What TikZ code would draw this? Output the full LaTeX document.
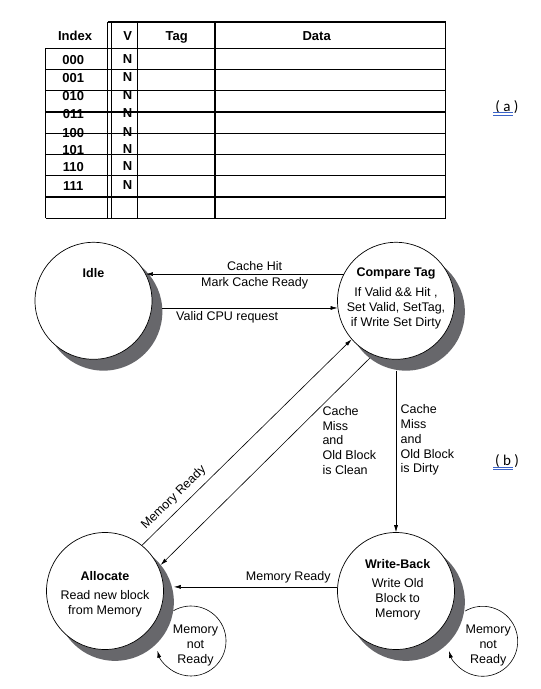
\documentclass[tikz,border=0pt]{standalone}
\usepackage{fontspec}
\setmainfont{Liberation Sans}
\newfontfamily\capfont{Carlito}
\usetikzlibrary{arrows.meta}

\definecolor{shadowgray}{HTML}{67676B}
\definecolor{underblue}{HTML}{3A63C8}

\tikzset{
	state/.style={circle, draw, fill=white, line width=0.7pt, minimum size=117pt, inner sep=0pt},
	stateshadow/.style={fill=shadowgray},
	statename/.style={font=\fontsize{12.5}{15}\selectfont\bfseries},
	statetext/.style={font=\fontsize{12.5}{15}\selectfont, align=center},
	edgetext/.style={font=\fontsize{12.5}{14.7}\selectfont},
	head/.style={font=\bfseries\fontsize{13}{15}\selectfont, text height=9.3pt, text depth=0pt, inner sep=0pt},
	cell/.style={font=\bfseries\fontsize{13}{15}\selectfont, text height=9.3pt, text depth=0pt, inner sep=0pt},
	partlbl/.style={font=\capfont\fontsize{15}{18}\selectfont}
}

\begin{document}
\begin{tikzpicture}[x=1pt, y=1pt, >={Latex[length=7pt,width=4pt]}]

	\useasboundingbox (0,0) rectangle (541,-689);

	% the cache table
	\draw [-, line width=1.3pt] (107.7,-22) -- (445.7,-22);
	\draw [-, line width=1.3pt] (45.7,-48.3) -- (445.7,-48.3);
	\draw [-, line width=1.3pt] (45.7,-69.6) -- (445.7,-69.6);
	\draw [-, line width=1.3pt] (45.7,-90.8) -- (445.7,-90.8);
	\draw [-, line width=1.3pt] (45.7,-112.1) -- (445.7,-112.1);
	\draw [-, line width=1.3pt] (45.7,-133.3) -- (445.7,-133.3);
	\draw [-, line width=1.3pt] (45.7,-154.6) -- (445.7,-154.6);
	\draw [-, line width=1.3pt] (45.7,-175.8) -- (445.7,-175.8);
	\draw [-, line width=1.3pt] (45.7,-197.1) -- (445.7,-197.1);
	\draw [-, line width=1.3pt] (45.7,-218.3) -- (445.7,-218.3);

	\draw [-, line width=1.3pt] (45.7,-48.3) -- (45.7,-218.3);
	\draw [-, line width=1pt] (107.7,-22) -- (107.7,-218.3);
	\draw [-, line width=1pt] (111,-22) -- (111,-218.3);
	\draw [-, line width=1.3pt] (137.7,-22) -- (137.7,-218.3);
	\draw [-, line width=1.3pt] (215,-22) -- (215,-218.3);
	\draw [-, line width=1.3pt] (445.7,-22) -- (445.7,-218.3);

	\node[head] (hidx) at (75,-36) {Index};
	\node[head] (hv) at (127.7,-36) {V};
	\node[head] (htag) at (176.7,-36) {Tag};
	\node[head] (hdata) at (316.7,-36) {Data};

	\node[cell] (idx0) at (73.3,-60) {000};
	\node[cell] (idx1) at (73.3,-78.3) {001};
	\node[cell] (idx2) at (73.3,-96) {010};
	\node[cell] (idx3) at (73.3,-114.3) {011};
	\node[cell] (idx4) at (73.3,-132.7) {100};
	\node[cell] (idx5) at (73.3,-149.7) {101};
	\node[cell] (idx6) at (73.3,-166.7) {110};
	\node[cell] (idx7) at (73.3,-185.7) {111};

	\node[cell] (v0) at (127.5,-58.5) {N};
	\node[cell] (v1) at (127.5,-76.8) {N};
	\node[cell] (v2) at (127.5,-94.8) {N};
	\node[cell] (v3) at (127.5,-113.2) {N};
	\node[cell] (v4) at (127.5,-131.6) {N};
	\node[cell] (v5) at (127.5,-148.5) {N};
	\node[cell] (v6) at (127.5,-165.8) {N};
	\node[cell] (v7) at (127.5,-184.8) {N};

	\node[partlbl] (parta) at (507,-106.7) {( a )};
	\draw [-, underblue, line width=0.7pt] (493,-112.7) -- (512.7,-112.7);
	\draw [-, underblue, line width=0.7pt] (493,-115) -- (512.7,-115);

	% the controller states, each with its shadow
	\coordinate (idlepos) at (93.5,-300.8);
	\coordinate (cmppos) at (396,-300.8);
	\coordinate (allocpos) at (105,-591);
	\coordinate (wbpos) at (396,-591);

	\fill[stateshadow] ([shift={(10,-11)}]idlepos) circle[radius=58.85];
	\fill[stateshadow] ([shift={(10,-11)}]cmppos) circle[radius=58.85];
	\fill[stateshadow] ([shift={(10,-11)}]allocpos) circle[radius=58.85];
	\fill[stateshadow] ([shift={(10,-11)}]wbpos) circle[radius=58.85];

	\node[state] (idle) at (idlepos) {};
	\node[state] (cmptag) at (cmppos) {};
	\node[state] (alloc) at (allocpos) {};
	\node[state] (wrback) at (wbpos) {};

	\node[statename] (idlename) at ([yshift=27.5]idle.center) {Idle};
	\node[statename] (cmpname) at ([yshift=27.5]cmptag.center) {Compare Tag};
	\node[statetext] (cmptext) at ([yshift=-7.5]cmptag.center) {If Valid \&\& Hit ,\\Set Valid, SetTag,\\if Write Set Dirty};
	\node[statename] (allocname) at ([yshift=15]alloc.center) {Allocate};
	\node[statetext] (alloctext) at ([yshift=-12.4]alloc.center) {Read new block\\from Memory};
	\node[statename] (wbname) at ([shift={(1.7,26.7)}]wrback.center) {Write-Back};
	\node[statetext] (wbtext) at ([shift={(1.7,-8.2)}]wrback.center) {Write Old\\Block to\\Memory};

	% transitions
	\draw [->, line width=0.6pt] (cmptag.153) -- node[edgetext, above, pos=0.45] (hitlbl) {Cache Hit}
		node[edgetext, below, pos=0.45] (readylbl) {Mark Cache Ready} (idle.27);
	\draw [->, line width=0.6pt] ([xshift=10]idle.east |- cmptag.187) -- node[edgetext, below, pos=0.37] (reqlbl) {Valid CPU request} (cmptag.187);
	\draw [->, line width=0.6pt] ([yshift=-11]cmptag.south) -- node[edgetext, right, align=left, pos=0.43, xshift=1] (dirtylbl) {Cache\\Miss\\and\\Old Block\\is Dirty} (wrback.north);
	\draw [->, line width=0.6pt] ([shift={(10,-11)}]cmptag.232) -- ([shift={(10,-11)}]alloc.39);
	\node[edgetext, anchor=west, align=left] (cleanlbl) at (319,-440.3) {Cache\\Miss\\and\\Old Block\\is Clean};
	\draw [->, line width=0.6pt] (alloc.51) -- node[edgetext, sloped, above=2pt, pos=0.19] (memlbl) {Memory Ready} (cmptag.221);
	\draw [->, line width=0.6pt] (wrback.176) -- node[edgetext, above, pos=0.3] (wblbl) {Memory Ready} ([xshift=10]alloc.east |- wrback.176);

	% waiting loops
	\coordinate (allocloop) at ([shift={(86,-50)}]alloc.center);
	\coordinate (wbloop) at ([shift={(86.7,-50.3)}]wrback.center);
	\draw [->, line width=0.6pt] ([shift={(120:35)}]allocloop) arc[start angle=120, end angle=-164, radius=35];
	\draw [->, line width=0.6pt] ([shift={(120:35)}]wbloop) arc[start angle=120, end angle=-164, radius=35];
	\node[statetext] (allocwait) at ([shift={(4.5,-4)}]allocloop) {Memory\\not\\Ready};
	\node[statetext] (wbwait) at ([shift={(5.5,-4)}]wbloop) {Memory\\not\\Ready};

	\node[partlbl] (partb) at (507,-460.7) {( b )};
	\draw [-, underblue, line width=0.7pt] (493,-467.3) -- (512.7,-467.3);
	\draw [-, underblue, line width=0.7pt] (493,-469.6) -- (512.7,-469.6);

\end{tikzpicture}
\end{document}
